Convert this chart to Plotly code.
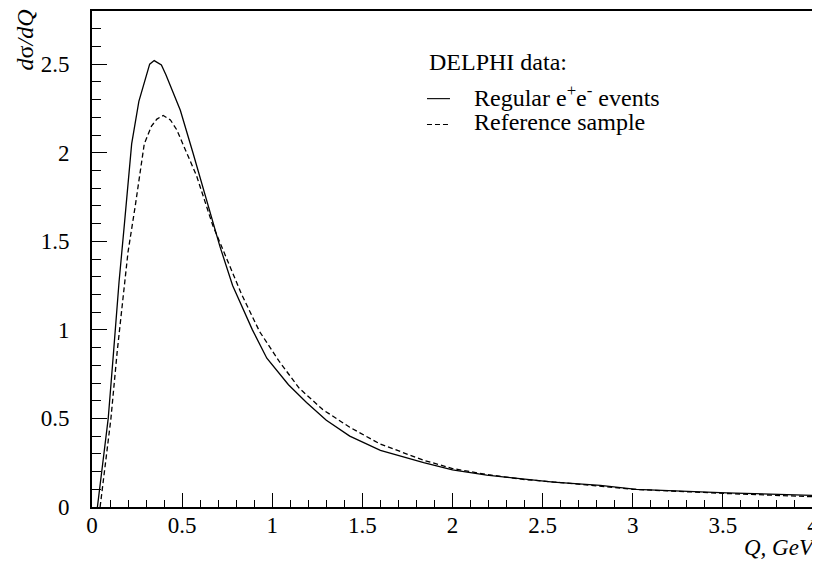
import plotly.graph_objects as go

# DELPHI Q distributions
q_regular = [0.03, 0.06, 0.09, 0.12, 0.15, 0.18, 0.22, 0.26, 0.30, 0.32, 0.345,
             0.385, 0.41, 0.49, 0.56, 0.64, 0.71, 0.78, 0.89, 0.97, 1.09, 1.19,
             1.30, 1.43, 1.60, 1.84, 2.00, 2.19, 2.41, 2.56, 2.82, 2.93, 3.02,
             3.52, 4.00]
ds_regular = [0.0, 0.25, 0.50, 0.88, 1.27, 1.60, 2.05, 2.29, 2.44, 2.50, 2.52,
              2.495, 2.44, 2.24, 2.00, 1.72, 1.47, 1.25, 1.00, 0.84, 0.69, 0.59,
              0.49, 0.40, 0.32, 0.25, 0.21, 0.18, 0.155, 0.14, 0.122, 0.11, 0.10,
              0.08, 0.066]

q_reference = [0.045, 0.075, 0.105, 0.14, 0.18, 0.20, 0.24, 0.29, 0.33, 0.36,
               0.395, 0.435, 0.47, 0.525, 0.58, 0.67, 0.74, 0.83, 0.93, 1.04,
               1.15, 1.28, 1.43, 1.60, 1.84, 2.00, 2.20, 2.40, 2.60, 2.82, 3.00,
               3.50, 4.00]
ds_reference = [0.0, 0.25, 0.50, 0.88, 1.25, 1.44, 1.70, 2.05, 2.15, 2.19,
                2.21, 2.185, 2.13, 2.00, 1.87, 1.59, 1.42, 1.20, 0.99, 0.82,
                0.67, 0.55, 0.45, 0.355, 0.264, 0.217, 0.182, 0.155, 0.138,
                0.117, 0.10, 0.077, 0.058]

legend_title = "DELPHI data:"
series_names = ["Regular e<sup>+</sup>e<sup>-</sup> events", "Reference sample"]

FONT = "Liberation Serif, Times New Roman, DejaVu Serif, serif"
DASH = "5px,3px"

fig = go.Figure()
fig.add_trace(go.Scatter(x=q_regular, y=ds_regular, mode="lines",
                         name=series_names[0],
                         line=dict(color="black", width=1.3)))
fig.add_trace(go.Scatter(x=q_reference, y=ds_reference, mode="lines",
                         name=series_names[1],
                         line=dict(color="black", width=1.3, dash=DASH)))

axis_common = dict(showline=True, linecolor="black", linewidth=2, mirror=True,
                   showgrid=False, zeroline=False, ticks="inside",
                   tickcolor="black", tickwidth=1,
                   tickfont=dict(family=FONT, size=23, color="black"))

fig.update_xaxes(range=[0, 4], dtick=0.5, ticklen=14, ticklabelstandoff=-4,
                 minor=dict(dtick=0.1, ticks="inside", ticklen=7, tickcolor="black"),
                 **axis_common)
fig.update_yaxes(range=[0, 2.8], tickvals=[0, 0.5, 1, 1.5, 2, 2.5],
                 ticktext=["0", "0.5", "1", "1.5", "2", "2.5"], ticklen=15,
                 ticklabelstandoff=16,
                 minor=dict(dtick=0.1, ticks="inside", ticklen=9, tickcolor="black"),
                 **axis_common)

# axis titles
fig.add_annotation(text="<i>Q, GeV</i>", xref="paper", yref="paper",
                   x=1, y=-0.053, xanchor="right", yanchor="top", xshift=5,
                   showarrow=False, font=dict(family=FONT, size=23, color="black"))
fig.add_annotation(text="<i>d</i>σ<i>/dQ</i>", xref="paper", yref="paper",
                   x=-0.093, y=1.0, xanchor="center", yanchor="top", textangle=-90,
                   yshift=4, showarrow=False,
                   font=dict(family=FONT, size=24, color="black"))

# legend drawn by hand so the rows sit as tight as in the original
leg_font = dict(family=FONT, size=24, color="black")
fig.add_annotation(text=legend_title, xref="paper", yref="paper", x=0.4646,
                   y=0.8916, xanchor="left", yanchor="middle", yshift=3,
                   showarrow=False, font=leg_font)
for i, (name, dash) in enumerate(zip(series_names, ["solid", DASH])):
    yy = 0.8233 - i * 0.0522
    fig.add_shape(type="line", xref="paper", yref="paper", x0=0.4646, x1=0.4965,
                  y0=yy, y1=yy, line=dict(color="black", width=1.1, dash=dash))
    fig.add_annotation(text=name, xref="paper", yref="paper", x=0.527, y=yy,
                       xanchor="left", yanchor="middle", yshift=3,
                       showarrow=False, font=leg_font)

# page body has an 8px margin, so the figure is sized to fit inside the window
fig.update_layout(
    width=812, height=559,
    margin=dict(l=84, r=7, t=1, b=60),
    plot_bgcolor="white", paper_bgcolor="white",
    font=dict(family=FONT, size=23, color="black"),
    showlegend=False,
)

fig.write_html("out.html")
